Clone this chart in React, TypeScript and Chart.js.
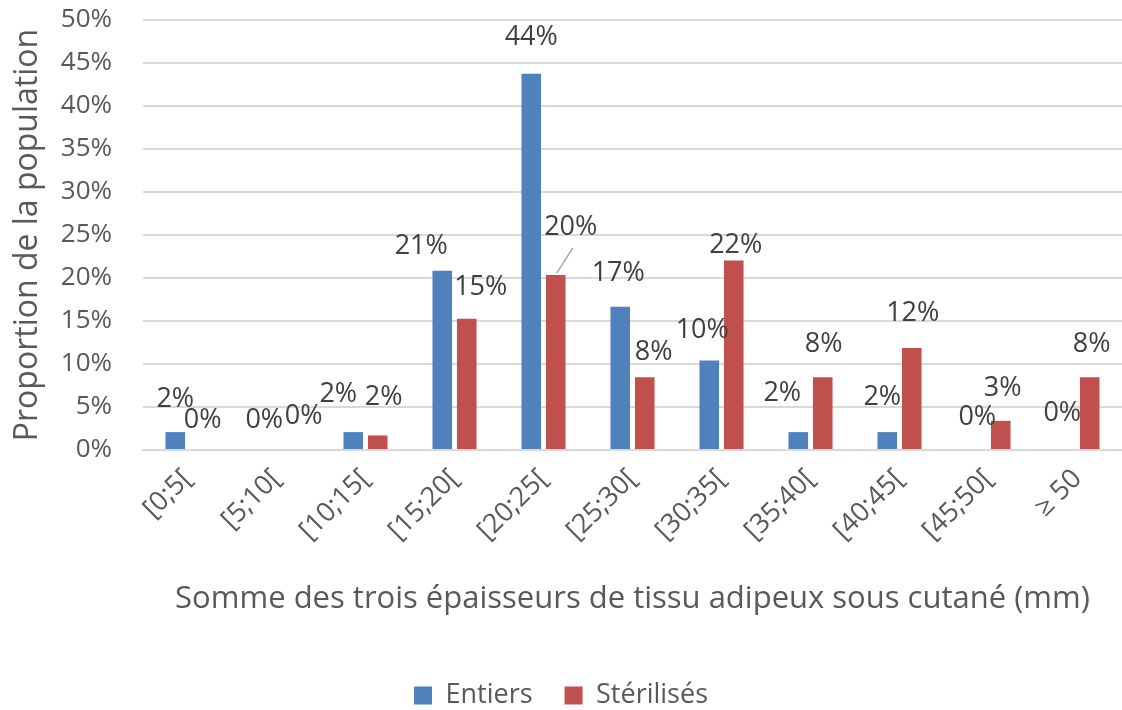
import { useEffect, useRef } from "react";
import { Chart, registerables } from "chart.js";

Chart.register(...registerables);

const categories = ["[0;5[", "[5;10[", "[10;15[", "[15;20[", "[20;25[", "[25;30[", "[30;35[", "[35;40[", "[40;45[", "[45;50[", "≥ 50"];
const entiers = [2.08, 0, 2.08, 20.83, 43.75, 16.67, 10.42, 2.08, 2.08, 0, 0];
const sterilises = [0, 0, 1.69, 15.25, 20.34, 8.47, 22.03, 8.47, 11.86, 3.39, 8.47];
const yTicks = [0, 5, 10, 15, 20, 25, 30, 35, 40, 45, 50];

// label placement (offsets from bar top centre), mirroring the manual placement in the original
const entiersLabelOffsets = [[0, -33], [0, -30], [-15, -38], [-21, -25], [0, -36], [-2, -33], [-7, -30], [-16, -39], [-5, -35], [1, -33], [-3, -37]];
const sterilisesLabelOffsets = [[3, -30], [15, -34], [6, -38], [14, -32], [15, -48], [9, -25], [2, -15], [1, -33], [1, -35], [2, -33], [2, -33]];

const FONT = "'Open Sans'";
const TEXT = "#595959";
const GRID = "#d9d9d9";

const labelPlugin = {
  id: "barLabels",
  afterDatasetsDraw(chart: any) {
    const ctx = chart.ctx;
    ctx.save();
    ctx.font = `27px ${FONT}`;
    ctx.fillStyle = "#404040";
    ctx.textAlign = "center";
    ctx.textBaseline = "middle";
    const offsets = [entiersLabelOffsets, sterilisesLabelOffsets];
    chart.data.datasets.forEach((ds: any, di: number) => {
      const meta = chart.getDatasetMeta(di);
      meta.data.forEach((bar: any, i: number) => {
        const v = ds.data[i];
        const [dx, dy] = offsets[di][i];
        ctx.fillText(Math.round(v) + "%", bar.x + dx, bar.y + dy);
        if (di === 1 && i === 4) {
          ctx.strokeStyle = "#a6a6a6";
          ctx.lineWidth = 1.5;
          ctx.beginPath();
          ctx.moveTo(bar.x + 1, bar.y - 2);
          ctx.lineTo(bar.x + 17, bar.y - 27);
          ctx.stroke();
        }
      });
    });
    ctx.restore();
  },
};

export default function App() {
  const ref = useRef<HTMLCanvasElement>(null);
  useEffect(() => {
    if (!ref.current) return;
    const chart = new Chart(ref.current, {
      type: "bar",
      data: {
        labels: categories,
        datasets: [
          { label: "Entiers", data: entiers, backgroundColor: "#4F81BD", categoryPercentage: 0.55, barPercentage: 0.8 },
          { label: "Stérilisés", data: sterilises, backgroundColor: "#C0504D", categoryPercentage: 0.55, barPercentage: 0.8 },
        ],
      },
      options: {
        responsive: false,
        animation: false,
        layout: { padding: { top: 20, right: 0, left: 0, bottom: 0 } },
        plugins: {
          tooltip: { enabled: false },
          legend: {
            position: "bottom",
            labels: {
              color: TEXT,
              font: { family: FONT, size: 27 },
              boxWidth: 18,
              boxHeight: 18,
              padding: 32,
            },
          },
        },
        scales: {
          x: {
            offset: true,
            afterFit: (s: any) => { s.height = 200; },
            grid: { display: false, drawTicks: false },
            border: { display: true, color: GRID, width: 2 },
            ticks: {
              color: TEXT,
              font: { family: FONT, size: 27 },
              maxRotation: 45,
              minRotation: 45,
              padding: 13,
              autoSkip: false,
            },
            title: {
              display: true,
              text: "Somme des trois épaisseurs de tissu adipeux sous cutané (mm)",
              color: TEXT,
              font: { family: FONT, size: 31 },
              padding: { top: 0, bottom: 32 },
            },
          },
          y: {
            min: 0,
            max: 50,
            afterFit: (s: any) => { s.width = 143; s.paddingTop = 0; s.paddingBottom = 0; },
            afterBuildTicks: (s: any) => { s.ticks = yTicks.map((v) => ({ value: v })); },
            grid: { color: GRID, lineWidth: 2, drawTicks: false },
            border: { display: false },
            ticks: {
              color: TEXT,
              font: { family: FONT, size: 26 },
              padding: 31,
              callback: (v: any) => v + "%",
            },
            title: {
              display: true,
              text: "Proportion de la population",
              color: TEXT,
              font: { family: FONT, size: 32 },
              padding: { top: 9, bottom: 0 },
            },
          },
        },
      },
      plugins: [labelPlugin],
    });
    return () => chart.destroy();
  }, []);
  return (
    <div style={{ position: "fixed", left: 0, top: 0, width: 1122, height: 710, background: "#fff", overflow: "hidden" }}>
      <canvas ref={ref} width={1122} height={719} />
    </div>
  );
}
